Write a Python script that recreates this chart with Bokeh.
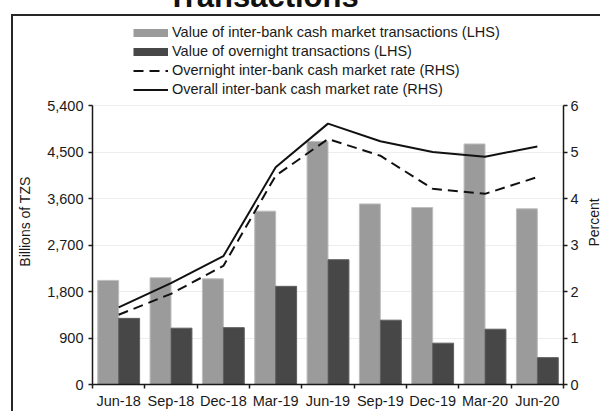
import numpy as np
from bokeh.plotting import figure
from bokeh.models import (ColumnDataSource, Range1d, LinearAxis, FixedTicker,
                          NumeralTickFormatter, Legend, LegendItem, Label)
from bokeh.transform import dodge
from bokeh.embed import file_html
from bokeh.resources import INLINE

# ---------------- data ----------------
months = ["Jun-18", "Sep-18", "Dec-18", "Mar-19", "Jun-19", "Sep-19", "Dec-19", "Mar-20", "Jun-20"]
interbank_value = [2015, 2065, 2045, 3355, 4705, 3495, 3425, 4655, 3400]
overnight_value = [1280, 1090, 1100, 1900, 2415, 1245, 800, 1070, 520]
overnight_rate = [1.50, 1.95, 2.55, 4.49, 5.28, 4.92, 4.21, 4.10, 4.46]
overall_rate = [1.66, 2.18, 2.76, 4.67, 5.61, 5.23, 5.00, 4.90, 5.12]
left_ticks = [0, 900, 1800, 2700, 3600, 4500, 5400]
right_ticks = [0, 1, 2, 3, 4, 5, 6]
legend_labels = ["Value of inter-bank cash market transactions (LHS)",
                 "Value of overnight transactions (LHS)",
                 "Overnight inter-bank cash market rate (RHS)",
                 "Overall inter-bank cash market rate (RHS)"]
title_text = "Transactions"
left_label = "Billions of TZS"
right_label = "Percent"

FONT = "Liberation Sans"
INK = "#1a1a1a"
NBSP = "\u00a0"
GRAY = "#9b9b9b"
DARK = "#474747"

# ---------------- layout (pixels) ----------------
SHIFT = 43            # canvas rows above the window (upper part of the cropped title)
H = 411 + SHIFT
BOTTOM = 27           # room for the x tick labels
FRAME_H = H - BOTTOM  # plot frame runs from the canvas top down to the x axis
DATA_TOP = 105 + SHIFT  # canvas row of the 5,400 / 6 gridline
DATA_H = FRAME_H - DATA_TOP
ext = FRAME_H / DATA_H  # range stretch so the legend / title sit inside the frame

n = len(months)
x_center = np.arange(n) + 0.5

src = ColumnDataSource(dict(x=x_center, month=months, interbank=interbank_value,
                            overnight=overnight_value, on_rate=overnight_rate,
                            all_rate=overall_rate))

frame_css = ("linear-gradient(#262626,#262626) 11px %dpx / 2px 2000px no-repeat, "
             "linear-gradient(#262626,#262626) 11px %dpx / 2000px 2px no-repeat"
             % (14 + SHIFT, 14 + SHIFT))

p = figure(width=600, height=H, output_backend="svg", toolbar_location=None,
           x_range=Range1d(0, n), y_range=Range1d(0, left_ticks[-1] * ext),
           min_border_left=92, min_border_right=37, min_border_top=0,
           min_border_bottom=BOTTOM,
           styles={"margin-top": "-%dpx" % SHIFT, "background": frame_css})
p.extra_y_ranges = {"rate": Range1d(0, right_ticks[-1] * ext)}
p.outline_line_color = None
p.background_fill_alpha = 0
p.border_fill_alpha = 0

TICK_FS = "14.5px"

# x axis: labels at category centres, ticks at category boundaries
xa = p.xaxis[0]
xa.ticker = FixedTicker(ticks=list(x_center), minor_ticks=list(range(n + 1)))
xa.major_label_overrides = {float(c): m for c, m in zip(x_center, months)}
xa.major_tick_out = 0
xa.major_tick_in = 0
xa.minor_tick_out = 4
xa.minor_tick_in = 0
xa.minor_tick_line_color = INK
xa.minor_tick_line_width = 1.5
xa.axis_line_color = INK
xa.axis_line_width = 1.5
xa.major_label_text_font = FONT
xa.major_label_text_font_size = TICK_FS
xa.major_label_text_color = INK
xa.major_label_standoff = 4

ya = p.yaxis[0]
ya.bounds = (left_ticks[0], left_ticks[-1])
ya.ticker = FixedTicker(ticks=left_ticks)
ya.formatter = NumeralTickFormatter(format="0,0")
ya.major_tick_out = 4
ya.major_tick_in = 0
ya.minor_tick_line_color = None
ya.major_tick_line_color = INK
ya.major_tick_line_width = 1.5
ya.axis_line_color = INK
ya.axis_line_width = 1.5
ya.major_label_text_font = FONT
ya.major_label_text_font_size = TICK_FS
ya.major_label_text_color = INK
ya.major_label_standoff = 5
# trailing no-break spaces move the centred label down beside the data area
ya.axis_label = left_label + NBSP * 26
ya.axis_label_text_font = FONT
ya.axis_label_text_font_size = "14px"
ya.axis_label_text_font_style = "normal"
ya.axis_label_text_color = INK
ya.axis_label_standoff = 11

ra = LinearAxis(y_range_name="rate", ticker=FixedTicker(ticks=right_ticks),
                bounds=(right_ticks[0], right_ticks[-1]))
ra.major_tick_out = 4
ra.major_tick_in = 0
ra.minor_tick_line_color = None
ra.major_tick_line_color = INK
ra.major_tick_line_width = 1.5
ra.axis_line_color = INK
ra.axis_line_width = 1.5
ra.major_label_text_font = FONT
ra.major_label_text_font_size = TICK_FS
ra.major_label_text_color = INK
ra.major_label_standoff = 3
p.add_layout(ra, "right")

# right-hand axis title, in the right side panel
p.add_layout(Label(x=12, y=FRAME_H - (222 + SHIFT), x_units="screen", y_units="screen",
                   text=right_label, angle=np.pi / 2, text_font=FONT,
                   text_font_size="14px", text_align="center", text_baseline="middle",
                   text_color=INK), "right")

p.xgrid.visible = False
p.ygrid.grid_line_color = "#ededed"
p.ygrid.grid_line_width = 1

# bars
r_ib = p.vbar(x=dodge("x", -0.2, range=p.x_range), top="interbank", width=0.4, source=src,
              fill_color=GRAY, line_color="#bdbdbd", line_width=1)
r_on = p.vbar(x=dodge("x", 0.2, range=p.x_range), top="overnight", width=0.4, source=src,
              fill_color=DARK, line_color="#5e5e5e", line_width=1)
# lines
r_onr = p.line("x", "on_rate", source=src, y_range_name="rate", line_color="#111111",
               line_width=2, line_dash="10 6")
r_all = p.line("x", "all_rate", source=src, y_range_name="rate", line_color="#111111",
               line_width=2)

# legend swatches (thin wide bars): hidden renderers of the same bar series
sw_ib = p.line("x", "interbank", source=src, line_color=GRAY, line_width=8,
               line_cap="butt", visible=False)
sw_on = p.line("x", "overnight", source=src, line_color=DARK, line_width=8,
               line_cap="butt", visible=False)

legend = Legend(items=[LegendItem(label=legend_labels[0], renderers=[sw_ib]),
                       LegendItem(label=legend_labels[1], renderers=[sw_on]),
                       LegendItem(label=legend_labels[2], renderers=[r_onr]),
                       LegendItem(label=legend_labels[3], renderers=[r_all])],
                location=(41, FRAME_H - (97 + SHIFT)), orientation="vertical")
legend.background_fill_alpha = 0
legend.border_line_color = None
legend.inactive_fill_alpha = 0
legend.padding = 0
legend.margin = 0
legend.spacing = 3
legend.label_height = 15
legend.glyph_height = 15
legend.glyph_width = 35
legend.label_standoff = 4
legend.label_text_font = FONT
legend.label_text_font_size = "14.5px"
legend.label_text_color = INK
p.add_layout(legend, "center")

# chart title: its upper part is above the window, as in the reference
p.add_layout(Label(x=75, y=FRAME_H - SHIFT + 4, x_units="screen", y_units="screen",
                   text=title_text, text_font=FONT, text_font_style="bold",
                   text_font_size="31px", text_align="left", text_baseline="alphabetic",
                   text_color="#111111"))

open("out.html", "w").write(file_html(p, INLINE))
